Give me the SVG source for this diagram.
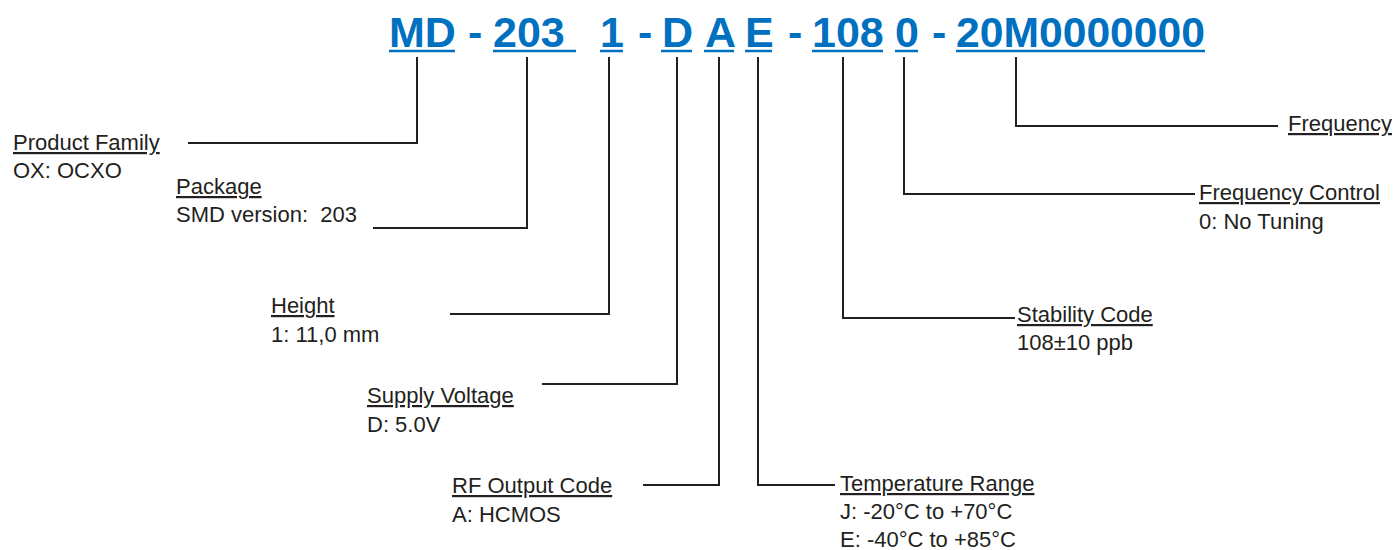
<svg xmlns="http://www.w3.org/2000/svg" width="1395" height="550" viewBox="0 0 1395 550">
<style>
.code{font-family:"Liberation Sans",Arial,sans-serif;font-weight:bold;font-size:43px;fill:#0070C0}
.ul{stroke:#0070C0;stroke-width:2.5}
.lbl{font-family:"Liberation Sans",Arial,sans-serif;font-size:22px;fill:#231F20}
.t{text-decoration:underline}
.con{fill:none;stroke:#231F20;stroke-width:2}
</style>
<rect width="1395" height="550" fill="#fff"/>
<g id="header">
<text class="code" x="389" y="47">MD</text>
<text class="code" x="468" y="47">-</text>
<text class="code" x="493" y="47">203</text>
<text class="code" x="600" y="47">1</text>
<text class="code" x="638" y="47">-</text>
<text class="code" x="662" y="47">D</text>
<text class="code" x="705" y="47">A</text>
<text class="code" x="745" y="47">E</text>
<text class="code" x="788" y="47">-</text>
<text class="code" x="812" y="47">108</text>
<text class="code" x="895" y="47">0</text>
<text class="code" x="932" y="47">-</text>
<text class="code" x="956" y="47" textLength="249" lengthAdjust="spacingAndGlyphs">20M0000000</text>
<line class="ul" x1="389" y1="51" x2="455" y2="51"/>
<line class="ul" x1="493" y1="51" x2="576" y2="51"/>
<line class="ul" x1="600" y1="51" x2="623" y2="51"/>
<line class="ul" x1="661" y1="51" x2="692" y2="51"/>
<line class="ul" x1="704" y1="51" x2="734" y2="51"/>
<line class="ul" x1="745" y1="51" x2="772" y2="51"/>
<line class="ul" x1="812" y1="51" x2="883" y2="51"/>
<line class="ul" x1="895" y1="51" x2="918" y2="51"/>
<line class="ul" x1="956" y1="51" x2="1205" y2="51"/>
</g>
<g id="connectors">
<polyline class="con" points="417,57 417,143 188,143"/>
<polyline class="con" points="527,57 527,228 373,228"/>
<polyline class="con" points="609,57 609,314 450,314"/>
<polyline class="con" points="677,57 677,384 542,384"/>
<polyline class="con" points="719,57 719,485 643,485"/>
<polyline class="con" points="758,57 758,485 835,485"/>
<polyline class="con" points="843,57 843,318 1015,318"/>
<polyline class="con" points="904,57 904,194 1195,194"/>
<polyline class="con" points="1016,57 1016,126 1278,126"/>
</g>
<g id="product-family"><text class="lbl t" x="13" y="150">Product Family</text><text class="lbl" x="13" y="178">OX: OCXO</text></g>
<g id="package"><text class="lbl t" x="176" y="194">Package</text><text class="lbl" x="176" y="222" xml:space="preserve">SMD version:  203</text></g>
<g id="height"><text class="lbl t" x="271" y="313">Height</text><text class="lbl" x="271" y="342">1: 11,0 mm</text></g>
<g id="supply-voltage"><text class="lbl t" x="367" y="403">Supply Voltage</text><text class="lbl" x="367" y="432">D: 5.0V</text></g>
<g id="rf-output"><text class="lbl t" x="452" y="493">RF Output Code</text><text class="lbl" x="452" y="522">A: HCMOS</text></g>
<g id="temperature"><text class="lbl t" x="840" y="491">Temperature Range</text><text class="lbl" x="840" y="519">J: -20°C to +70°C</text><text class="lbl" x="840" y="547">E: -40°C to +85°C</text></g>
<g id="stability"><text class="lbl t" x="1017" y="322">Stability Code</text><text class="lbl" x="1017" y="350">108±10 ppb</text></g>
<g id="freq-control"><text class="lbl t" x="1199" y="200">Frequency Control</text><text class="lbl" x="1199" y="229">0: No Tuning</text></g>
<g id="frequency"><text class="lbl t" x="1288" y="131">Frequency</text></g>
</svg>
